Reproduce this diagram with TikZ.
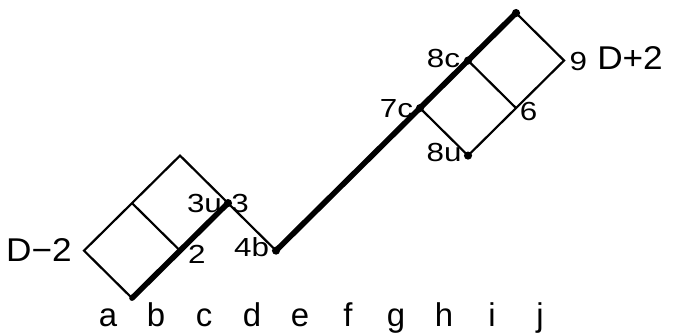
\documentclass[tikz,border=0pt]{standalone}
\usepackage{fontspec}
\setmainfont{Liberation Sans}
\newfontfamily\labfont[FakeStretch=1.2]{Liberation Sans}
\newfontfamily\dfont[FakeStretch=1.07]{Liberation Sans}
\begin{document}
\begin{tikzpicture}[x=1cm, y=0.99cm, line width=1.3pt,
  heavy/.style={line width=3.3pt, line cap=round},
  dot/.style={circle, fill, inner sep=0pt, minimum size=0.17cm},
  lab/.style={font=\labfont\fontsize{15.5}{15.5}\selectfont, inner sep=0pt},
  big/.style={font=\fontsize{19.5}{19.5}\selectfont, inner sep=0pt},
  dlab/.style={font=\dfont\fontsize{19.5}{19.5}\selectfont, inner sep=0pt}]
  \useasboundingbox (-2.75,-0.737) rectangle (11.27,6.274);
  % lattice points, one diagonal step = one unit
  \coordinate (P1) at (0,0);
  \coordinate (L) at (-1,1);
  \coordinate (P2) at (1,1);
  \coordinate (M) at (0,2);
  \coordinate (T) at (1,3);
  \coordinate (P3) at (2,2);
  \coordinate (P4) at (3,1);
  \coordinate (P7) at (6,4);
  \coordinate (P8c) at (7,5);
  \coordinate (Top) at (8,6);
  \coordinate (P9) at (9,5);
  \coordinate (P6) at (8,4);
  \coordinate (P8u) at (7,3);
  \draw (P1) -- (L) -- (T) -- (P3) -- (P4);
  \draw (M) -- (P2);
  \draw (P7) -- (P8u) -- (P9) -- (Top);
  \draw (P8c) -- (P6);
  \draw[heavy] (P1) -- (P2) -- (P3);
  \draw[heavy] (P4) -- (P7) -- (P8c) -- (Top);
  \foreach \p in {P3, P4, P7, P8c, Top, P8u}
    \node[dot] at (\p) {};
  % labels
  \node[lab] (l3u) at (1.51,2.00) {3u};
  \node[lab] (l3) at (2.25,2.00) {3};
  \node[lab] (l2) at (1.35,0.93) {2};
  \node[lab] (l4b) at (2.49,1.07) {4b};
  \node[lab] (l7c) at (5.51,3.99) {7c};
  \node[lab] (l8c) at (6.49,5.04) {8c};
  \node[lab] (l8u) at (6.50,3.06) {8u};
  \node[lab] (l6) at (8.26,3.92) {6};
  \node[lab] (l9) at (9.30,4.99) {9};
  \node[dlab] (dp) at (10.375,5.05) {D+2};
  \node[dlab] (dm) at (-1.94,1.02) {D−2};
  \foreach \l [count=\i] in {a,b,c,d,e,f,g,h,i,j}
    \node[big, anchor=base] (x\l) at (\i-1.5,-0.59) {\l};
\end{tikzpicture}
\end{document}
